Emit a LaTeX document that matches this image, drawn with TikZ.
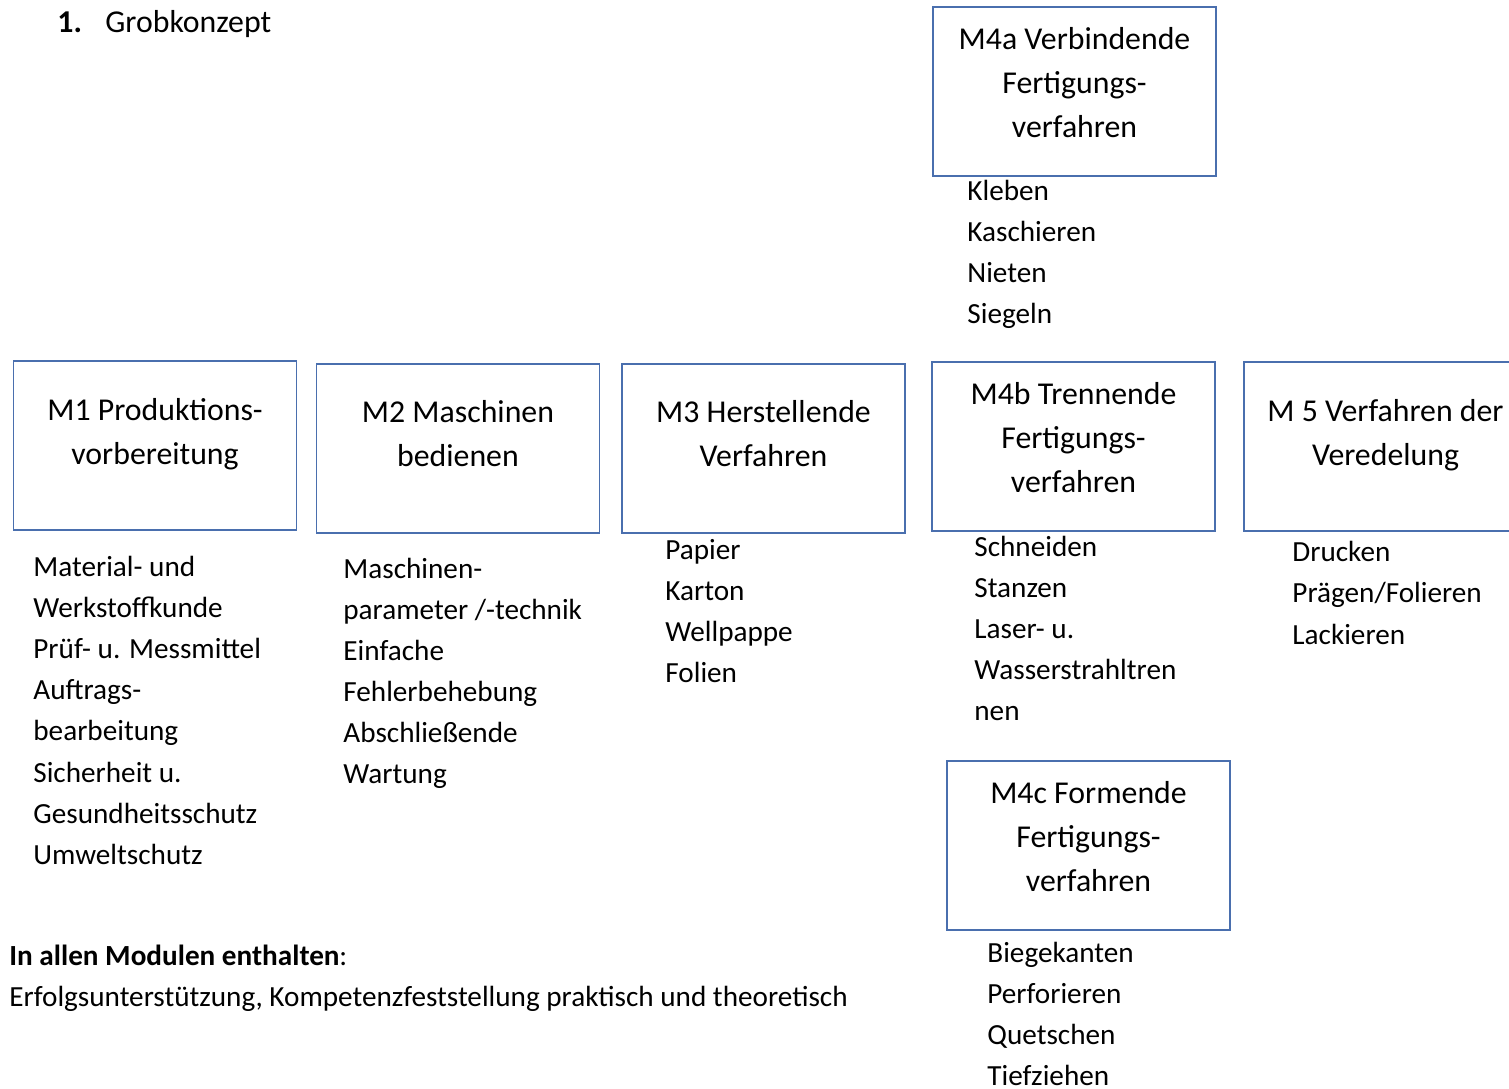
\documentclass[tikz,border=0pt]{standalone}
\usepackage{fontspec}
\setmainfont{Carlito}
\definecolor{boxblue}{HTML}{4A6FAE}
\newcommand{\listfont}{\fontsize{14.6pt}{20.6pt}\selectfont}
\newcommand{\boxfont}{\fontsize{15.9pt}{22pt}\selectfont}
\tikzset{
  modbox/.style={draw=boxblue, line width=0.6pt, minimum width=141.5pt, minimum height=84.5pt, inner sep=0pt},
  modtitle/.style={align=center, font=\boxfont, inner sep=0pt},
  listitem/.style={anchor=base west, font=\listfont, inner sep=0pt},
}
\begin{document}
\begin{tikzpicture}[x=0.5pt,y=-0.5pt]
  \clip (0,0) rectangle (1509,1088);
  % heading
  \node[anchor=base west, font=\boxfont\bfseries, inner sep=0pt] (num) at (57,32) {1.};
  \node[anchor=base west, font=\boxfont, inner sep=0pt] (head) at (105,32) {Grobkonzept};

  % module boxes
  \node[modbox] (m4a) at (1074.5,91.5) {};
  \node[modbox] (m1) at (155,445.5) {};
  \node[modbox] (m2) at (458,448.5) {};
  \node[modbox] (m3) at (763.5,448.5) {};
  \node[modbox] (m4b) at (1073.5,446.5) {};
  \node[modbox] (m5) at (1385.5,446.5) {};
  \node[modbox] (m4c) at (1088.5,845.5) {};

  \node[modtitle] (m4at) at ([yshift=4.5pt]m4a.center) {M4a Verbindende\\Fertigungs-\\verfahren};
  \node[modtitle] (m1t) at ([yshift=5.5pt]m1.center) {M1 Produktions-\\vorbereitung};
  \node[modtitle] (m2t) at ([yshift=7.5pt]m2.center) {M2 Maschinen\\bedienen};
  \node[modtitle] (m3t) at ([yshift=7.5pt]m3.center) {M3 Herstellende\\Verfahren};
  \node[modtitle] (m4bt) at ([yshift=4.5pt]m4b.center) {M4b Trennende\\Fertigungs-\\verfahren};
  \node[modtitle] (m5t) at ([yshift=5.5pt]m5.center) {M 5 Verfahren der\\Veredelung};
  \node[modtitle] (m4ct) at ([yshift=4.5pt]m4c.center) {M4c Formende\\Fertigungs-\\verfahren};

  % contents
  \foreach \txt [count=\i] in {Kleben, Kaschieren, Nieten, Siegeln}
    \node[listitem] (m4a-\i) at (967,{200+41.3*(\i-1)}) {\txt};
  \foreach \txt [count=\i] in {Material- und, Werkstoffkunde, Prüf- u. Messmittel, Auftrags-,
      bearbeitung, Sicherheit u., Gesundheitsschutz, Umweltschutz}
    \node[listitem] (m1-\i) at (33,{576+41.2*(\i-1)}) {\txt};
  \foreach \txt [count=\i] in {Maschinen-, parameter /-technik, Einfache, Fehlerbehebung,
      Abschließende, Wartung}
    \node[listitem] (m2-\i) at (343,{578+41*(\i-1)}) {\txt};
  \foreach \txt [count=\i] in {Papier, Karton, Wellpappe, Folien}
    \node[listitem] (m3-\i) at (665,{559+41*(\i-1)}) {\txt};
  \foreach \txt [count=\i] in {Schneiden, Stanzen, Laser- u., Wasserstrahltren, nen}
    \node[listitem] (m4b-\i) at (974,{556+41.2*(\i-1)}) {\txt};
  \foreach \txt [count=\i] in {Drucken, Prägen/Folieren, Lackieren}
    \node[listitem] (m5-\i) at (1292,{561+41.5*(\i-1)}) {\txt};
  \foreach \txt [count=\i] in {Biegekanten, Perforieren, Quetschen, Tiefziehen}
    \node[listitem] (m4c-\i) at (987,{962+41*(\i-1)}) {\txt};

  % note
  \node[listitem] (allg) at (9,965) {\textbf{In allen Modulen enthalten}:};
  \node[listitem] (allgtext) at (9,1006) {Erfolgsunterstützung, Kompetenzfeststellung praktisch und theoretisch};
\end{tikzpicture}
\end{document}
